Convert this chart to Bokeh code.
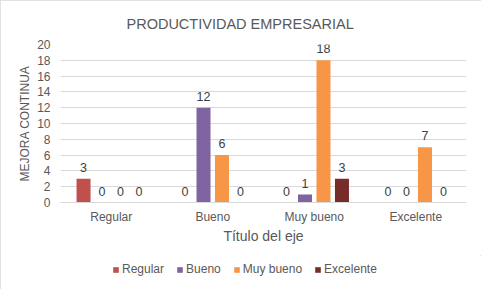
from bokeh.plotting import figure
from bokeh.models import FactorRange, Range1d, Legend, LegendItem, ColumnDataSource
from bokeh.layouts import column
from bokeh.transform import dodge
from bokeh.core.properties import value
from bokeh.embed import file_html
from bokeh.resources import INLINE

categories = ["Regular", "Bueno", "Muy bueno", "Excelente"]
series_names = ["Regular", "Bueno", "Muy bueno", "Excelente"]
regular = [3, 0, 0, 0]
bueno = [0, 12, 1, 0]
muy_bueno = [0, 6, 18, 7]
excelente = [0, 0, 3, 0]
y_ticks = [0, 2, 4, 6, 8, 10, 12, 14, 16, 18, 20]

colors = ["#C0504D", "#8064A2", "#F79646", "#772C2A"]
offsets = [-0.273, -0.091, 0.091, 0.273]

FONT = "Liberation Sans"
GRAY = "#595959"

p = figure(width=481, height=255, x_range=FactorRange(factors=categories, range_padding=0),
           y_range=Range1d(0, 20), output_backend="svg", toolbar_location=None,
           min_border_left=60, min_border_right=15, min_border_top=44, min_border_bottom=53)
p.outline_line_color = None

p.title.text = "PRODUCTIVIDAD EMPRESARIAL"
p.title.align = "left"
p.title.offset = 66
p.title.standoff = 25
p.title.text_font = FONT
p.title.text_font_size = "14.5px"
p.title.text_font_style = "normal"
p.title.text_color = GRAY

src = ColumnDataSource(dict(cat=categories, s0=regular, s1=bueno, s2=muy_bueno, s3=excelente))

for i, (name, col, off) in enumerate(zip(series_names, colors, offsets)):
    p.vbar(x=dodge("cat", off, range=p.x_range), top="s%d" % i, width=0.138,
           source=src, fill_color=col, line_color=None)
    p.text(x=dodge("cat", off, range=p.x_range), y="s%d" % i, text="s%d" % i, source=src,
           text_align="center", text_baseline="bottom", y_offset=-7,
           text_font=value(FONT), text_font_size="12.5px", text_color="#404040")

p.yaxis.ticker = y_ticks
p.yaxis.axis_line_color = None
p.yaxis.major_tick_line_color = None
p.yaxis.minor_tick_line_color = None
p.yaxis.major_label_standoff = 4
p.yaxis.major_label_text_font = FONT
p.yaxis.major_label_text_font_size = "12px"
p.yaxis.major_label_text_color = GRAY
p.yaxis.axis_label = "MEJORA CONTINUA"
p.yaxis.axis_label_text_font = FONT
p.yaxis.axis_label_text_font_size = "12px"
p.yaxis.axis_label_text_font_style = "normal"
p.yaxis.axis_label_text_color = GRAY
p.yaxis.axis_label_standoff = 2

p.xaxis.axis_line_color = "#D9D9D9"
p.xaxis.major_tick_line_color = None
p.xaxis.minor_tick_line_color = None
p.xaxis.major_label_standoff = 1
p.xaxis.major_label_text_font = FONT
p.xaxis.major_label_text_font_size = "12px"
p.xaxis.major_label_text_color = GRAY
p.xaxis.axis_label = "Título del eje"
p.xaxis.axis_label_text_font = FONT
p.xaxis.axis_label_text_font_size = "14px"
p.xaxis.axis_label_text_font_style = "normal"
p.xaxis.axis_label_text_color = GRAY
p.xaxis.axis_label_standoff = 1

p.xgrid.grid_line_color = None
p.ygrid.grid_line_color = "#D9D9D9"

# legend strip: same series drawn below its visible y range, only the legend shows
lg = figure(width=481, height=34, output_backend="svg", toolbar_location=None,
            x_range=FactorRange(factors=categories, range_padding=0), y_range=Range1d(100, 101),
            min_border=0, x_axis_location=None, y_axis_location=None)
lg.outline_line_color = None
lg.xgrid.grid_line_color = None
lg.ygrid.grid_line_color = None
items = []
for i, (name, col, off) in enumerate(zip(series_names, colors, offsets)):
    r = lg.vbar(x=dodge("cat", off, range=lg.x_range), top="s%d" % i, width=0.138,
                source=src, fill_color=col, line_color=None)
    items.append(LegendItem(label=name, renderers=[r]))

legend = Legend(items=items, orientation="horizontal", location=(52, 13),
                glyph_width=7, glyph_height=7, label_standoff=3, spacing=12,
                label_height=12, label_text_baseline="middle",
                label_text_font=FONT, label_text_font_size="12px", label_text_color=GRAY,
                border_line_color=None, background_fill_alpha=0, padding=0, margin=0)
lg.add_layout(legend, "center")

layout = column(p, lg, spacing=0)
layout.styles = {"outline": "1px solid #D9D9D9", "outline-offset": "-1px"}
open("out.html", "w").write(file_html(layout, INLINE))
